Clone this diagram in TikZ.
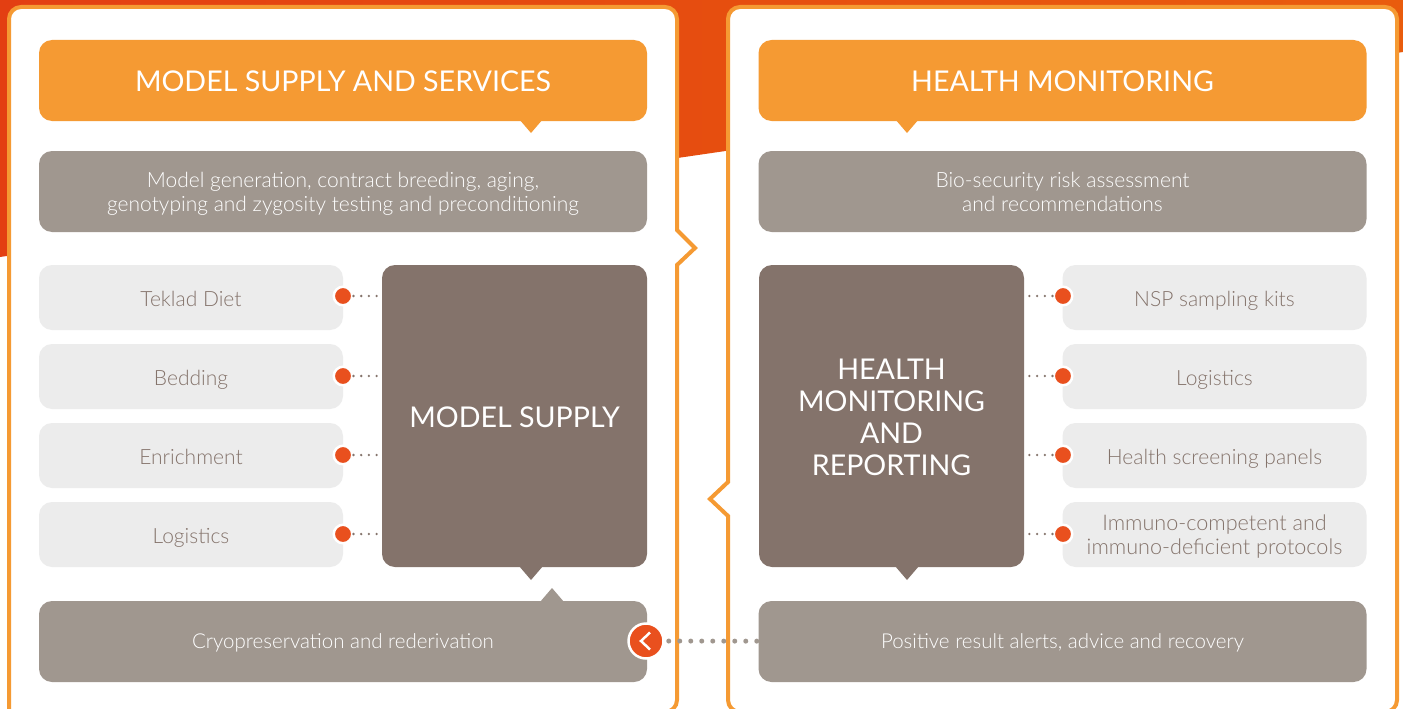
\documentclass[tikz,border=0pt]{standalone}
\usepackage{fontspec}
\setmainfont{Lato}
\newfontfamily\lightfont{Lato Light}
\usetikzlibrary{positioning}
\usetikzlibrary{calc}
\definecolor{bandL}{HTML}{E33F12}
\definecolor{bandR}{HTML}{E95C0D}
\definecolor{orangeC}{HTML}{F59A33}
\definecolor{greyC}{HTML}{A0978F}
\definecolor{brownC}{HTML}{84736B}
\definecolor{lightC}{HTML}{ECECEC}
\definecolor{redC}{HTML}{E9501E}
\newcommand{\firstline}[1]{\rule{0pt}{#1pt}}
\begin{document}
\begin{tikzpicture}[
        x=1pt,
        y=-1pt,
        defaultS/.style={
            rectangle,
            rounded corners=13pt,
            align=center,
            inner sep=0pt,
            outer sep=0pt,
            text=white
        },
        bigTextS/.style={
            font=\fontsize{28.6}{32}\selectfont,
            execute at begin node=\rule{0pt}{30pt},
            execute at end node=\rule[-8pt]{0pt}{0pt}
        },
        smallTextS/.style={
            font=\lightfont\fontsize{21}{24}\selectfont,
            execute at begin node=\rule{0pt}{23pt},
            execute at end node=\rule[-6pt]{0pt}{0pt}
        },
        headS/.style={
            defaultS,
            bigTextS,
            fill=orangeC,
            minimum width=608pt,
            minimum height=81pt
        },
        greyS/.style={
            defaultS,
            smallTextS,
            fill=greyC,
            minimum width=608pt,
            minimum height=81pt
        },
        lowS/.style={
            greyS,
            font=\lightfont\fontsize{20.5}{24}\selectfont,
            execute at end node=\rule[-10pt]{0pt}{0pt}
        },
        bigS/.style={
            defaultS,
            bigTextS,
            fill=brownC,
            minimum width=265pt,
            minimum height=302pt
        },
        itemS/.style={
            defaultS,
            smallTextS,
            fill=lightC,
            text=brownC,
            minimum width=304pt,
            minimum height=65pt
        },
        panelS/.style={
            draw=orangeC,
            fill=white,
            line width=4pt
        },
        dotS/.style={
            circle,
            fill=redC,
            draw=white,
            line width=2.5pt,
            inner sep=0pt,
            minimum size=18.5pt
        },
        backS/.style={
            dotS,
            minimum size=35pt
        },
        smallDotsS/.style={
            draw=brownC,
            line width=2.6pt,
            line cap=round,
            dash pattern=on 0pt off 7.7pt
        },
        bigDotsS/.style={
            draw=greyC,
            line width=5pt,
            line cap=round,
            shorten <=4pt,
            dash pattern=on 0pt off 11pt
        },
    ]

    \clip (0,0) rectangle (1403,709);

    % background
    \shade[left color=bandL,right color=bandR] (0,0) -- (1403,0) -- (1403,52) -- (0,257) -- cycle;

    % panels
    \draw[panelS] (9,725) [rounded corners=12pt] -- (9,7) -- (677,7) [sharp corners] -- (677,230) -- (695,248) -- (677,265) [rounded corners=12pt] -- (677,712) -- (9,712) [sharp corners] -- cycle;
    \draw[panelS] (728,482) [rounded corners=12pt] -- (728,7) -- (1397,7) -- (1397,712) -- (728,712) [sharp corners] -- (728,516) -- (710,499) -- cycle;

    % pointers
    \fill[orangeC] (519,119) -- (531,133) -- (543,119) -- cycle;
    \fill[orangeC] (895,119) -- (907,133) -- (919,119) -- cycle;
    \fill[brownC] (519,566) -- (531,580) -- (543,566) -- cycle;
    \fill[brownC] (895,566) -- (907,580) -- (919,566) -- cycle;
    \fill[greyC] (540,602) -- (552,588) -- (564,602) -- cycle;

    % left side
    \node[headS] (H1) at (343,80.5) {MODEL SUPPLY AND SERVICES};
    \node[greyS] (G1) at (343,191.5) {\firstline{21}Model generation, contract breeding, aging,\\genotyping and zygosity testing and preconditioning};
    \node[bigS] (supply) at (514.5,416) {MODEL SUPPLY};
    \node[itemS] (L1) at (191,297.5) {Teklad Diet};
    \node[itemS] (L2) at (191,376.5) {Bedding};
    \node[itemS] (L3) at (191,455.5) {Enrichment};
    \node[itemS] (L4) at (191,534.5) {Logistics};
    \node[lowS] (cryo) at (343,641.5) {Cryopreservation and rederivation};

    % right side
    \node[headS] (H2) at (1062.5,80.5) {HEALTH MONITORING};
    \node[greyS] (G2) at (1062.5,191.5) {\firstline{21}Bio-security risk assessment\\and recommendations};
    \node[bigS] (health) at (891.5,416) {\firstline{30}HEALTH\\MONITORING\\AND\\REPORTING};
    \node[itemS] (R1) at (1214.5,297.5) {NSP sampling kits};
    \node[itemS] (R2) at (1214.5,376.5) {Logistics};
    \node[itemS] (R3) at (1214.5,455.5) {Health screening panels};
    \node[itemS,font=\lightfont\fontsize{21.6}{24}\selectfont] (R4) at (1214.5,534.5) {\firstline{21}Immuno-competent and\\immuno-deficient protocols};
    \node[lowS] (alerts) at (1062.5,641.5) {Positive result alerts, advice and recovery};

    % red dots
    \node[dotS] (D1) at (343,296) {};
    \node[dotS] (D2) at (343,376) {};
    \node[dotS] (D3) at (343,455) {};
    \node[dotS] (D4) at (343,534) {};
    \node[dotS] (E1) at (1063,296) {};
    \node[dotS] (E2) at (1063,376) {};
    \node[dotS] (E3) at (1063,455) {};
    \node[dotS] (E4) at (1063,534) {};

    \draw[smallDotsS] (D1) -- (D1 -| supply.west);
    \draw[smallDotsS] (D2) -- (D2 -| supply.west);
    \draw[smallDotsS] (D3) -- (D3 -| supply.west);
    \draw[smallDotsS] (D4) -- (D4 -| supply.west);
    \draw[smallDotsS] (E1) -- (E1 -| health.east);
    \draw[smallDotsS] (E2) -- (E2 -| health.east);
    \draw[smallDotsS] (E3) -- (E3 -| health.east);
    \draw[smallDotsS] (E4) -- (E4 -| health.east);

    % back arrow
    \node[backS] (back) at (646,641) {};
    \draw[bigDotsS] (back) -- (alerts);
    \draw[white,line width=2.5pt] ($(back)+(4,-8.5)$) -- ($(back)+(-5,0)$) -- ($(back)+(4,8.5)$);

\end{tikzpicture}
\end{document}
